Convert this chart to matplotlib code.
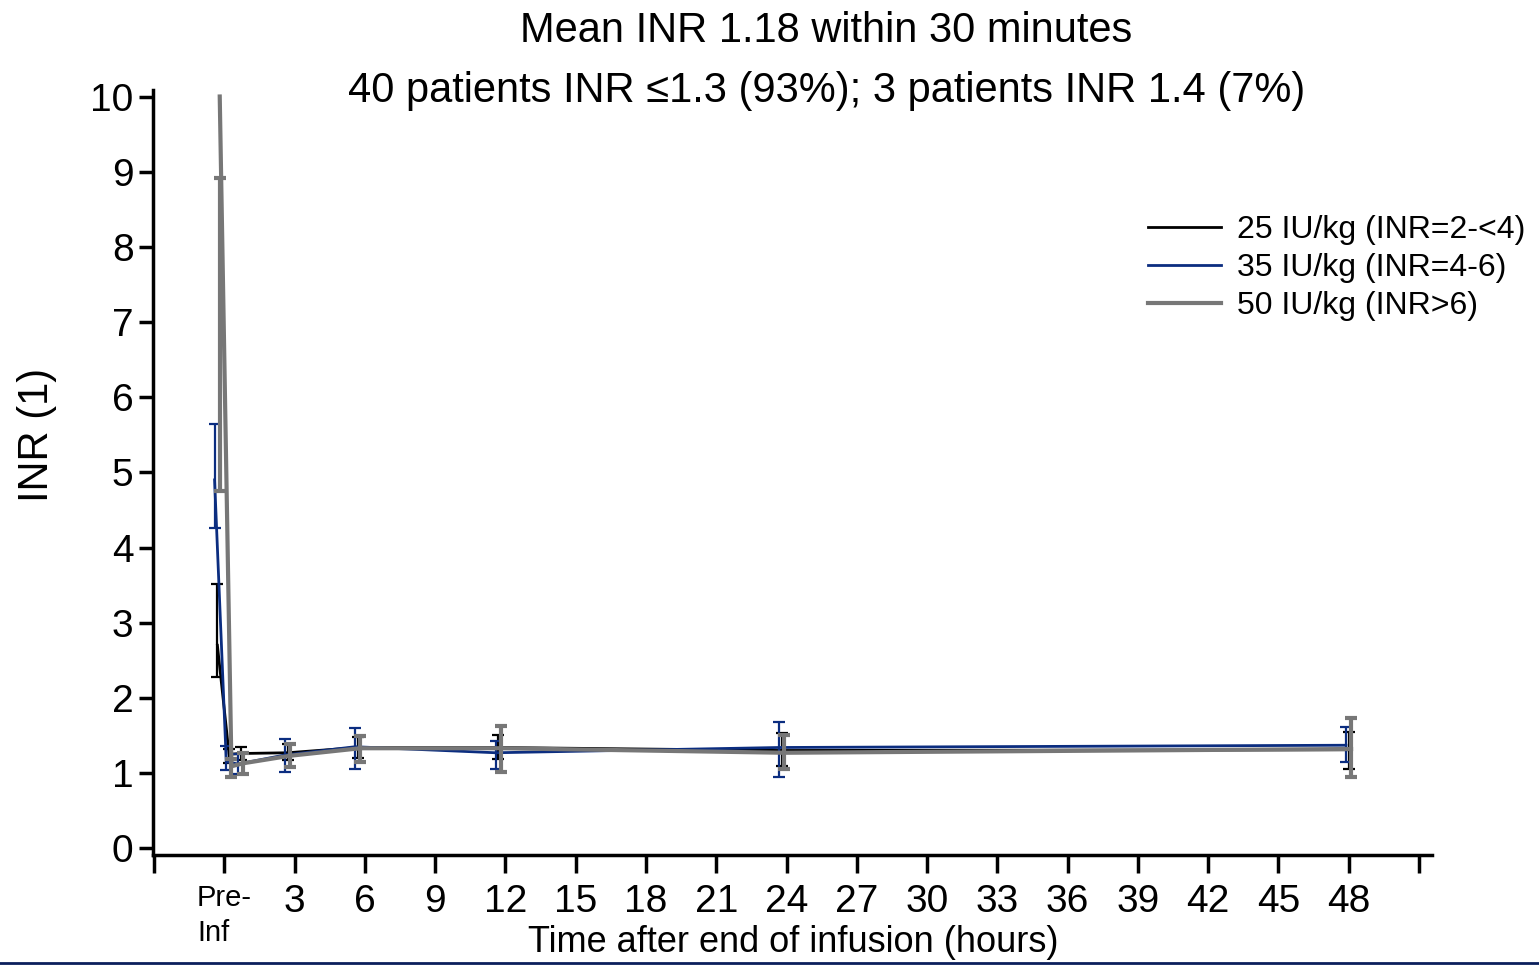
import matplotlib.pyplot as plt
from matplotlib.lines import Line2D
import numpy as np

plt.rcParams['font.family'] = ['Liberation Sans', 'DejaVu Sans']

# time points (hours after end of infusion, pre-infusion plotted just before 0)
times = [-0.3, 0.2, 0.7, 2.7, 5.7, 11.7, 23.8, 48.0]

# 25 IU/kg (INR=2-<4)
black_mean = [2.70, 1.25, 1.26, 1.27, 1.34, 1.34, 1.30, 1.31]
black_lo = [2.28, 1.14, 1.17, 1.18, 1.20, 1.19, 1.09, 1.06]
black_hi = [3.52, 1.32, 1.35, 1.39, 1.48, 1.50, 1.53, 1.54]

# 35 IU/kg (INR=4-6)
blue_mean = [4.90, 1.15, 1.12, 1.24, 1.35, 1.27, 1.34, 1.37]
blue_lo = [4.26, 1.04, 0.99, 1.02, 1.06, 1.06, 0.95, 1.15]
blue_hi = [5.65, 1.36, 1.25, 1.45, 1.60, 1.42, 1.68, 1.61]

# 50 IU/kg (INR>6)
gray_mean = [10.0, 1.09, 1.13, 1.23, 1.33, 1.33, 1.27, 1.32]
gray_lo = [4.75, 0.95, 0.99, 1.08, 1.15, 1.01, 1.06, 0.95]
gray_hi = [8.92, 1.19, 1.27, 1.39, 1.49, 1.62, 1.50, 1.73]

labels = ['25 IU/kg (INR=2-<4)', '35 IU/kg (INR=4-6)', '50 IU/kg (INR>6)']

xticks = list(range(-3, 52, 3))
xticklabels = ['', 'Pre-\nInf'] + [str(t) for t in range(3, 49, 3)] + ['']

fig = plt.figure(figsize=(15.39, 9.65), dpi=100)
ax = fig.add_axes([0.0994, 0.114, 0.831, 0.793])

series = [
    (black_mean, black_lo, black_hi, '#000000', 2.0, 1.6, 0.0),
    (blue_mean, blue_lo, blue_hi, '#0b2d80', 2.0, 1.6, -0.12),
    (gray_mean, gray_lo, gray_hi, '#777777', 3.0, 3.0, 0.1),
]

handles = []
for (m, lo, hi, col, lw, elw, dodge), lab in zip(series, labels):
    x = np.array(times) + dodge
    m = np.array(m)
    lo = np.array(lo)
    hi = np.array(hi)
    ax.errorbar(x, (lo + hi) / 2, yerr=(hi - lo) / 2, fmt='none', ecolor=col,
                elinewidth=elw, capsize=4, capthick=elw)
    ln, = ax.plot(x, m, color=col, lw=lw)
    handles.append(ln)

ax.set_xlim(-3.05, 51.55)
ax.set_ylim(-0.09, 10.09)
ax.set_xticks(xticks)
ax.set_xticklabels(xticklabels)
ax.set_yticks(range(0, 11))

for s in ['top', 'right']:
    ax.spines[s].set_visible(False)
for s in ['left', 'bottom']:
    ax.spines[s].set_linewidth(2.5)
ax.tick_params(axis='both', width=2.5, direction='out', labelsize=28)
ax.tick_params(axis='x', length=13, pad=8)
ax.tick_params(axis='y', length=10, pad=4)

pre = ax.get_xticklabels()[1]
pre.set_fontsize(21)
pre.set_horizontalalignment('center')
pre.set_multialignment('left')
pre.set_linespacing(1.3)

ax.set_ylabel('INR (1)', fontsize=30)
ax.yaxis.set_label_coords(-0.075, 0.549)
ax.set_xlabel('Time after end of infusion (hours)', fontsize=26, va='top')
ax.xaxis.set_label_coords(0.5004, -0.092)

fig.text(0.537, 0.968, 'Mean INR 1.18 within 30 minutes', ha='center', va='center', fontsize=30)
fig.text(0.537, 0.906, '40 patients INR \u22641.3 (93%); 3 patients INR 1.4 (7%)',
         ha='center', va='center', fontsize=30)

ax.legend(handles, labels, loc='upper left', bbox_to_anchor=(0.727, 0.807),
          bbox_transform=fig.transFigure, frameon=False, fontsize=23,
          handlelength=2.3, handletextpad=0.5, labelspacing=0.25)

fig.add_artist(Line2D([0, 1], [0.002, 0.002], transform=fig.transFigure,
                      color='#0b1f5c', lw=2))

fig.savefig('out.png', dpi=100)
